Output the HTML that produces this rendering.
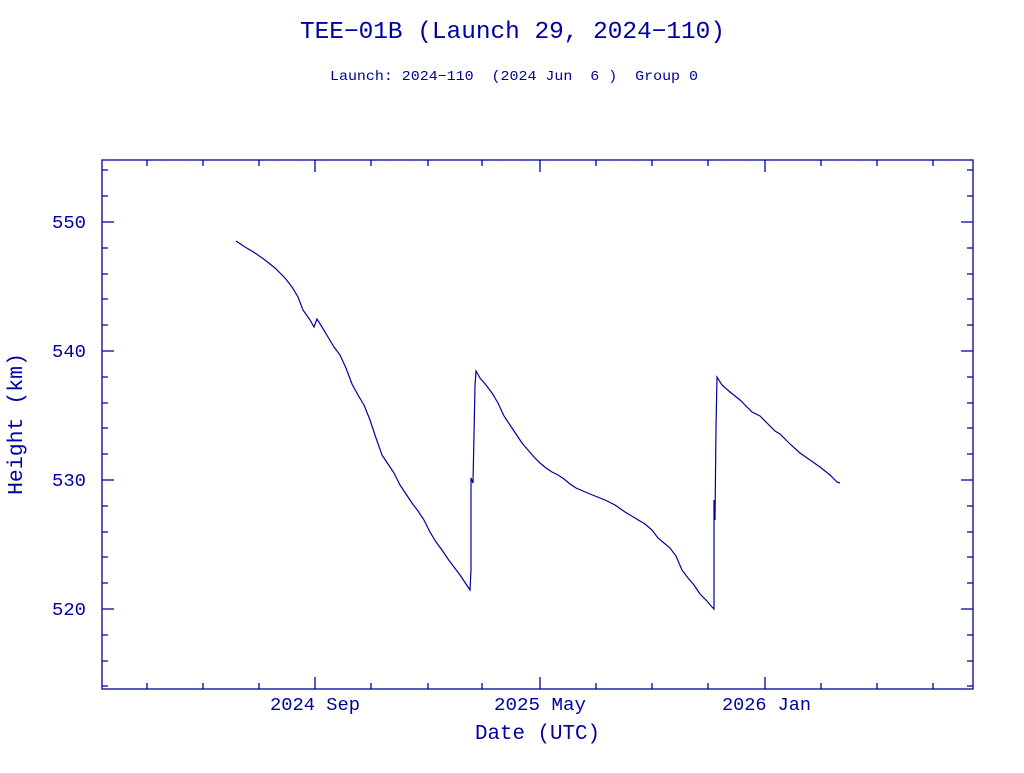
<!DOCTYPE html>
<html><head><meta charset="utf-8"><style>
body{margin:0;background:#fff;overflow:hidden;}
svg text{font-family:"Liberation Mono",monospace;fill:#0000a0;}
</style></head><body>
<svg width="1024" height="768" viewBox="0 0 1024 768" xmlns="http://www.w3.org/2000/svg">
<text x="300" y="38" font-size="24" textLength="425" lengthAdjust="spacingAndGlyphs">TEE−01B (Launch 29, 2024−110)</text>
<text x="330" y="80" font-size="14" textLength="368" lengthAdjust="spacingAndGlyphs" xml:space="preserve">Launch: 2024−110  (2024 Jun  6 )  Group 0</text>
<g stroke="#0000a0" stroke-width="1.3" fill="none">
<rect x="102" y="160" width="871" height="529"/>
<path d="M102,222h12M973,222h-12M102,351h12M973,351h-12M102,480h12M973,480h-12M102,609h12M973,609h-12
M102,170h6M973,170h-6M102,196h6M973,196h-6M102,248h6M973,248h-6M102,274h6M973,274h-6M102,299h6M973,299h-6M102,325h6M973,325h-6M102,377h6M973,377h-6M102,403h6M973,403h-6M102,428h6M973,428h-6M102,454h6M973,454h-6M102,506h6M973,506h-6M102,532h6M973,532h-6M102,557h6M973,557h-6M102,583h6M973,583h-6M102,635h6M973,635h-6M102,661h6M973,661h-6M102,686h6M973,686h-6
M315,689v-12M315,160v12M540,689v-12M540,160v12M765,689v-12M765,160v12
M147,689v-6M147,160v6M203,689v-6M203,160v6M259,689v-6M259,160v6M371,689v-6M371,160v6M428,689v-6M428,160v6M482,689v-6M482,160v6M596,689v-6M596,160v6M652,689v-6M652,160v6M708,689v-6M708,160v6M821,689v-6M821,160v6M877,689v-6M877,160v6M933,689v-6M933,160v6"/>
<path stroke-width="1.2" d="M236,241 L245,247 255,253 265,260 275,268 285,278 292,287 298,297 303,310 310,320 314,327 317,319 322,327 328,337 334,347 340,355 346,368 352,384 358,395 364,405 370,420 376,438 382,455 388,464 394,473 400,485 406,494 412,503 418,511 424,520 430,532 436,542 442,550 448,559 454,567 460,575 466,584 470,590 471,570 471,478 473,483 475,386 476,371 480,378 486,385 492,393 498,403 504,416 510,425 516,434 522,443 528,450 534,457 540,463 546,468 552,472 558,475 564,479 570,484 576,488 590,494 605,500 615,505 625,512 635,518 645,524 652,530 658,538 664,543 670,548 676,556 682,570 688,578 694,585 700,594 706,600 712,607 714,609 714,500 715,520 716,428 717,377 722,385 730,392 740,400 745,405 752,412 760,416 768,424 775,431 780,434 790,444 800,453 810,460 820,467 830,475 837,482 840,483"/>
</g>
<g font-size="18">
<text x="52" y="228" textLength="34" lengthAdjust="spacingAndGlyphs">550</text>
<text x="52" y="357" textLength="34" lengthAdjust="spacingAndGlyphs">540</text>
<text x="52" y="486" textLength="34" lengthAdjust="spacingAndGlyphs">530</text>
<text x="52" y="615" textLength="34" lengthAdjust="spacingAndGlyphs">520</text>
<text x="270" y="710" textLength="90" lengthAdjust="spacingAndGlyphs">2024 Sep</text>
<text x="494" y="710" textLength="92" lengthAdjust="spacingAndGlyphs">2025 May</text>
<text x="722" y="710" textLength="89" lengthAdjust="spacingAndGlyphs">2026 Jan</text>
</g>
<text x="475" y="739" font-size="21" textLength="125" lengthAdjust="spacingAndGlyphs">Date (UTC)</text>
<text transform="translate(22,495) rotate(-90)" font-size="21" textLength="142" lengthAdjust="spacingAndGlyphs">Height (km)</text>
</svg>
</body></html>
